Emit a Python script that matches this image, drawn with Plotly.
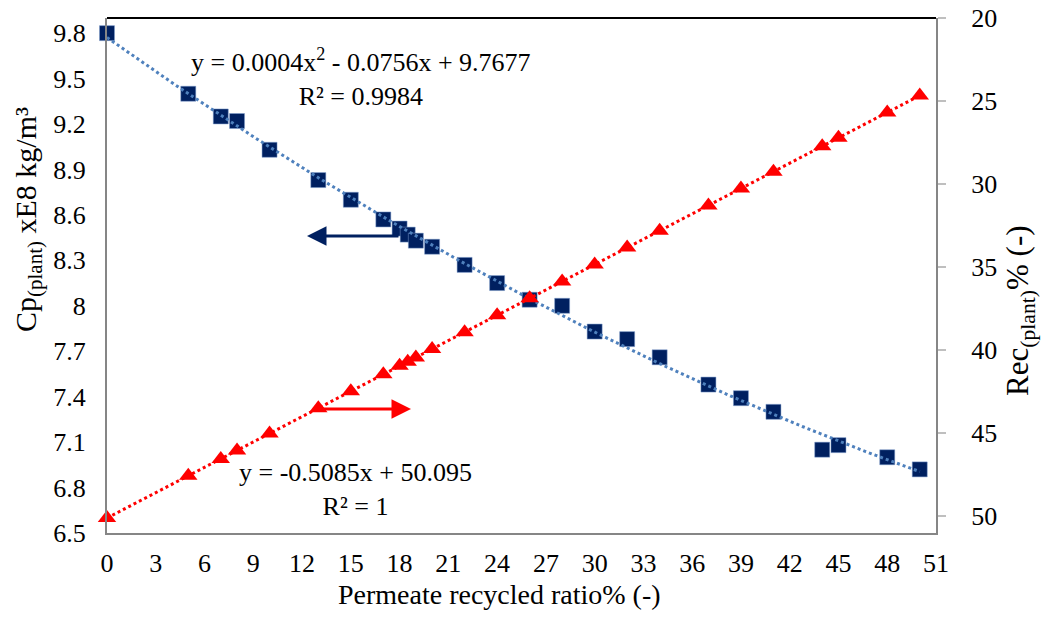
import numpy as np
import plotly.graph_objects as go

# ---- data ----
recycle_ratio = [0, 5, 7, 8, 10, 13, 15, 17, 18, 18.5, 19, 20, 22, 24, 26, 28,
                 30, 32, 34, 37, 39, 41, 44, 45, 48, 50]
cp_plant = [9.80, 9.40, 9.25, 9.22, 9.03, 8.83, 8.70, 8.57, 8.51, 8.47, 8.43, 8.39,
            8.27, 8.15, 8.04, 8.00, 7.83, 7.78, 7.66, 7.48, 7.39, 7.30, 7.05, 7.08,
            7.00, 6.92]
rec_plant = [50.10, 47.55, 46.54, 46.03, 45.01, 43.49, 42.47, 41.45, 40.94, 40.69,
             40.43, 39.93, 38.91, 37.89, 36.87, 35.86, 34.84, 33.82, 32.81, 31.28,
             30.26, 29.25, 27.72, 27.21, 25.69, 24.67]

y1_ticks = [6.5, 6.8, 7.1, 7.4, 7.7, 8.0, 8.3, 8.6, 8.9, 9.2, 9.5, 9.8]
y1_ticktext = ["6.5", "6.8", "7.1", "7.4", "7.7", "8", "8.3", "8.6", "8.9", "9.2", "9.5", "9.8"]
y2_ticks = [20, 25, 30, 35, 40, 45, 50]
x_ticks = list(range(0, 52, 3))

x_title = "Permeate recycled ratio% (-)"
y1_title = "Cp<sub>(plant)</sub> xE8 kg/m³"
y2_title = "Rec<sub>(plant)</sub>% (-)"
eq_cp = "y = 0.0004x<sup>2</sup> - 0.0756x + 9.7677<br>R² = 0.9984"
eq_rec = "y = -0.5085x + 50.095<br>R² = 1"

# ---- trendlines fitted to the data ----
x_arr = np.array(recycle_ratio, dtype=float)
xfit = np.linspace(0, 50, 120)
cp_fit = np.polyval(np.polyfit(x_arr, cp_plant, 2), xfit)
rec_fit = np.polyval(np.polyfit(x_arr, rec_plant, 1), xfit)

FONT = "Liberation Serif"
NAVY = "#002060"
RED = "#ff0000"
GRAY = "#868686"

# plot area in pixels
L, R, T, B = 107, 936, 18, 533
W, H = R - L, B - T

def px(xpix):
    return (xpix - L) / W

def py(ypix):
    return (B - ypix) / H

fig = go.Figure()
fig.add_trace(go.Scatter(x=recycle_ratio, y=cp_plant, mode="markers", yaxis="y",
                         marker=dict(symbol="square", size=15, color=NAVY,
                                     line=dict(color="#7f9fcf", width=0.5)),
                         cliponaxis=False, showlegend=False))
fig.add_trace(go.Scatter(x=recycle_ratio, y=rec_plant, mode="markers", yaxis="y2",
                         marker=dict(symbol="triangle-up", size=16, color=RED),
                         cliponaxis=False, showlegend=False))
fig.add_trace(go.Scatter(x=xfit, y=rec_fit, mode="lines", yaxis="y2",
                         line=dict(color=RED, width=3, dash="dot"),
                         cliponaxis=False, showlegend=False))
fig.add_trace(go.Scatter(x=xfit, y=cp_fit, mode="lines", yaxis="y",
                         line=dict(color="#4f81bd", width=3, dash="dot"),
                         cliponaxis=False, showlegend=False))

fig.update_layout(
    width=1047, height=620,
    margin=dict(l=L, r=1047 - R, t=T, b=620 - B, autoexpand=False),
    paper_bgcolor="white", plot_bgcolor="white",
    font=dict(family=FONT, size=26, color="black"),
    xaxis=dict(range=[0, 51], tickvals=x_ticks, showgrid=False, zeroline=False,
               showline=True, linecolor=GRAY, linewidth=2, ticks="", automargin=False,
               ticklabelstandoff=6, tickfont=dict(size=26)),
    yaxis=dict(range=[6.5, 9.9], tickvals=y1_ticks, ticktext=y1_ticktext,
               showgrid=False, zeroline=False, showline=True, linecolor=GRAY,
               linewidth=2, ticks="", automargin=False, ticklabelstandoff=14,
               tickfont=dict(size=26)),
    yaxis2=dict(range=[51, 20], tickvals=y2_ticks, overlaying="y", side="right",
                showgrid=False, zeroline=False, showline=True, linecolor=GRAY,
                linewidth=2, ticks="outside", ticklen=8, tickcolor="#bfbfbf",
                tickwidth=2, automargin=False, ticklabelstandoff=20,
                tickfont=dict(size=26)),
    shapes=[dict(type="line", xref="paper", yref="paper", x0=0, x1=1, y0=1, y1=1,
                 line=dict(color="black", width=2))],
)

fig.add_annotation(xref="paper", yref="paper", x=px(499), y=py(594), xanchor="center",
                   yanchor="middle", text=x_title, showarrow=False, font=dict(size=28))
fig.add_annotation(xref="paper", yref="paper", x=px(28), y=py(220), xanchor="center",
                   yanchor="middle", text=y1_title, textangle=-90, showarrow=False,
                   font=dict(size=30))
fig.add_annotation(xref="paper", yref="paper", x=px(1020), y=py(311), xanchor="center",
                   yanchor="middle", text=y2_title, textangle=-90, showarrow=False,
                   font=dict(size=31))
fig.add_annotation(xref="paper", yref="paper", x=px(361), y=py(78), xanchor="center",
                   yanchor="middle", text=eq_cp, showarrow=False, font=dict(size=26),
                   align="center")
fig.add_annotation(xref="paper", yref="paper", x=px(355), y=py(489), xanchor="center",
                   yanchor="middle", text=eq_rec, showarrow=False, font=dict(size=26),
                   align="center")
fig.add_annotation(x=px(307), y=py(236), ax=93, ay=0, xref="paper", yref="paper",
                   axref="pixel", ayref="pixel", showarrow=True, arrowhead=2, arrowsize=1.3,
                   arrowwidth=3, arrowcolor=NAVY, text="")
fig.add_annotation(x=px(411), y=py(409), ax=-93, ay=0, xref="paper", yref="paper",
                   axref="pixel", ayref="pixel", showarrow=True, arrowhead=2, arrowsize=1.3,
                   arrowwidth=3, arrowcolor=RED, text="")

fig.write_html("out.html", config={"displayModeBar": False},
               post_script="document.body.style.margin='0px';")
